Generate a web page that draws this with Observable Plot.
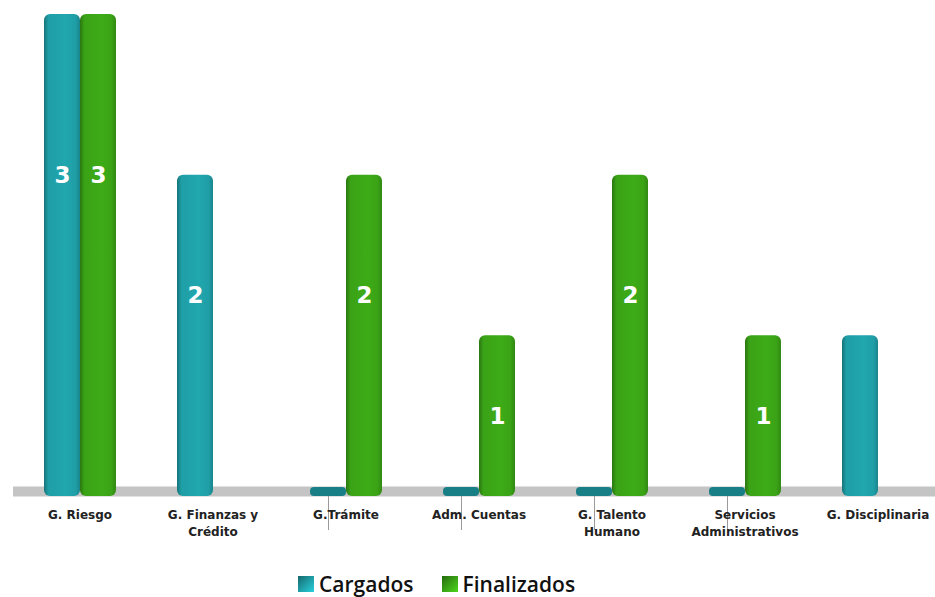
<!DOCTYPE html>
<html><head><meta charset="utf-8">
<script src="https://cdn.jsdelivr.net/npm/d3@7"></script>
<script src="https://cdn.jsdelivr.net/npm/@observablehq/plot@0.6"></script>
<style>
body{margin:0;background:#fff;font-family:"DejaVu Sans",sans-serif;}
#legend{display:flex;gap:28px;margin-left:298px;margin-top:10px;font-family:"Open Sans",sans-serif;font-weight:600;font-size:21px;color:#111;}
#legend span.item{display:flex;align-items:center;gap:5px;}
#legend span.sw{width:16px;height:16px;display:inline-block;}
</style></head>
<body>
<div id="chart"></div>
<div id="legend"></div>
<script>
const categories = ["G. Riesgo","G. Finanzas y Crédito","G.Trámite","Adm. Cuentas","G. Talento Humano","Servicios Administrativos","G. Disciplinaria"];
const tickLabels = ["G. Riesgo","G. Finanzas y\nCrédito","G.Trámite","Adm. Cuentas","G. Talento\nHumano","Servicios\nAdministrativos","G. Disciplinaria"];
const seriesNames = ["Cargados","Finalizados"];
const cargados = [3,2,0,0,0,0,1];
const finalizados = [3,null,2,1,2,1,null];
const seriesColors = ["#1f9ea6","#3aa216"];
const unlabeled = ["G. Disciplinaria"];

const rows = [];
categories.forEach((c,i)=>{
  if (cargados[i] != null) rows.push({cat:c, series:"Cargados", value:cargados[i]});
  if (finalizados[i] != null) rows.push({cat:c, series:"Finalizados", value:finalizados[i]});
});
const pos = rows.filter(d=>d.value>0);
const zeros = rows.filter(d=>d.value===0);
const labels = pos.filter(d=>!unlabeled.includes(d.cat));
const tickMap = new Map(categories.map((c,i)=>[c,tickLabels[i]]));

const chart = Plot.plot({
  width: 935, height: 560,
  marginTop: 14, marginBottom: 64, marginLeft: 12, marginRight: -9,
  fx: {domain: categories, padding: 0, label: null, axis: null},
  x: {domain: seriesNames, paddingInner: 0, paddingOuter: 0.8, axis: null},
  y: {domain: [0,3], axis: null},
  color: {domain: seriesNames, range: seriesColors},
  style: {fontFamily: "DejaVu Sans", fontSize: "12px", color: "#222"},
  marks: [
    Plot.ruleY([0], {stroke: "#c4c4c4", strokeWidth: 10, dy: -5}),
    Plot.ruleX(zeros, {fx: "cat", x: "series", y1: 0, y2: 0, insetBottom: -34, stroke: "#9a9a9a", strokeWidth: 1}),
    Plot.barY(zeros, {fx: "cat", x: "series", y1: 0, y2: 0, insetTop: -9, fill: "#197f86", rx: 4}),
    Plot.barY(pos, {fx: "cat", x: "series", y: "value", fill: "series", rx: 6, className: "mainbars"}),
    Plot.text(labels, {fx: "cat", x: "series", y: d=>d.value*0.75-0.25, text: d=>String(d.value), fill: "white", fontSize: 23, fontWeight: "bold", fontFamily: "DejaVu Sans"}),
    Plot.axisFx({anchor: "bottom", tickSize: 0, tickPadding: 11, lineHeight: 1.4, fontSize: 12, fontWeight: "bold", fill: "#222", label: null, tickFormat: d=>tickMap.get(d)})
  ]
});
document.getElementById("chart").appendChild(chart);

// gradient shading for the bars
const svg = d3.select(chart.tagName.toLowerCase()==="svg" ? chart : chart.querySelector("svg"));
const defs = svg.insert("defs", ":first-child");
seriesColors.forEach((c,i)=>{
  const g = defs.append("linearGradient").attr("id","grad"+i).attr("x1","0").attr("x2","1").attr("y1","0").attr("y2","0");
  const dark = d3.color(c).darker(0.9), light = d3.color(c).brighter(0.15);
  [[0,dark],[0.12,c],[0.6,light],[0.88,c],[1,d3.color(c).darker(0.5)]].forEach(([o,col])=>g.append("stop").attr("offset",o).attr("stop-color",col));
});
svg.selectAll(".mainbars rect").each(function(){
  const f = (this.getAttribute("fill")||"").toLowerCase();
  const idx = seriesColors.findIndex(c=>d3.color(c).formatHex()===d3.color(f)?.formatHex());
  if (idx>=0) this.setAttribute("fill","url(#grad"+idx+")");
});

const legend = document.getElementById("legend");
seriesNames.forEach((s,i)=>{
  const it = document.createElement("span"); it.className="item";
  const sw = document.createElement("span"); sw.className="sw";
  sw.style.background = `linear-gradient(135deg, ${d3.color(seriesColors[i]).darker(1.2)} 0%, ${seriesColors[i]} 50%, ${d3.color(seriesColors[i]).brighter(0.8)} 100%)`;
  it.appendChild(sw);
  const t = document.createElement("span"); t.textContent = s;
  it.appendChild(t);
  legend.appendChild(it);
});
</script>
</body></html>
